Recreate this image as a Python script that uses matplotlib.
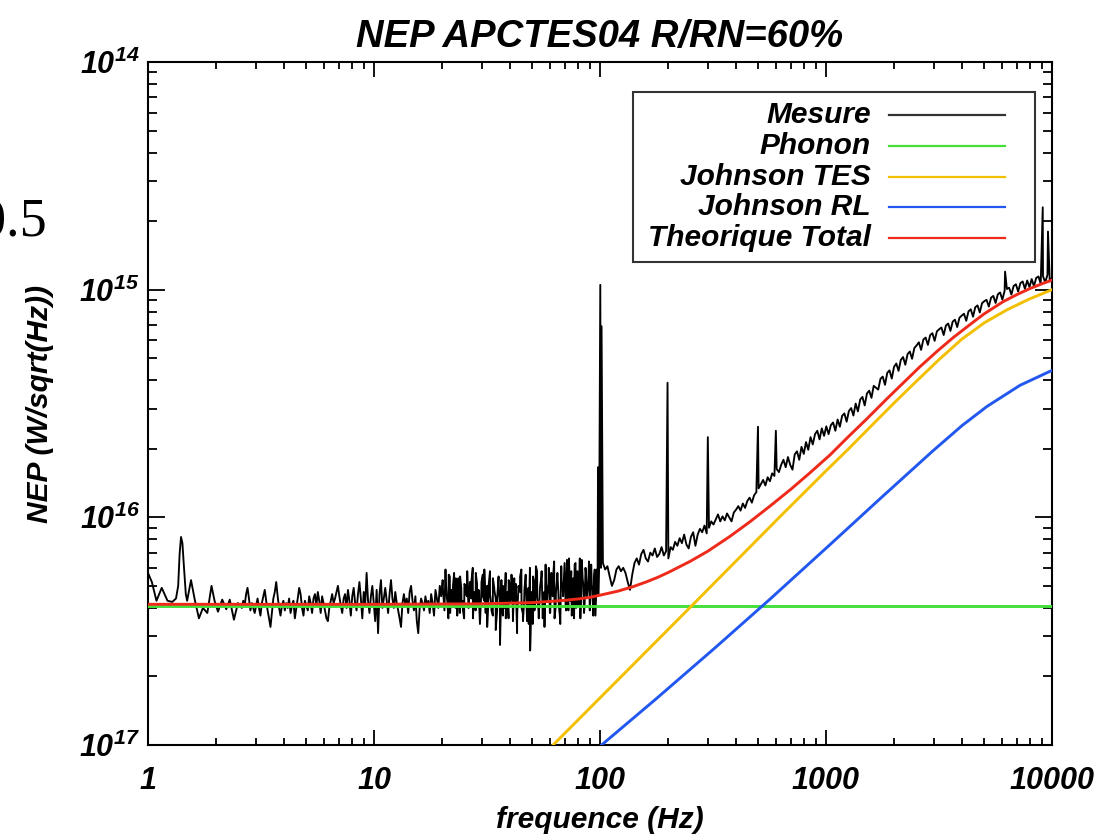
import numpy as np
import matplotlib
matplotlib.use('Agg')
import matplotlib.pyplot as plt
from matplotlib.lines import Line2D
from matplotlib.patches import Rectangle
from matplotlib.ticker import FixedLocator, FixedFormatter, LogLocator, NullFormatter

plt.rcParams['font.family'] = ['Liberation Sans', 'DejaVu Sans']
plt.rcParams['font.weight'] = 'bold'
plt.rcParams['font.style'] = 'italic'
plt.rcParams['mathtext.fontset'] = 'custom'
plt.rcParams['mathtext.rm'] = 'Liberation Sans:italic:bold'
plt.rcParams['mathtext.it'] = 'Liberation Sans:italic:bold'
plt.rcParams['mathtext.bf'] = 'Liberation Sans:italic:bold'

UNIT = 1e-17  # all values below are in units of 1e-17 W/sqrt(Hz)

# ---------------- data ----------------
title = "NEP APCTES04 R/RN=60%"
xlabel = "frequence (Hz)"
ylabel = "NEP (W/sqrt(Hz))"
legend_labels = ["Mesure", "Phonon", "Johnson TES", "Johnson RL", "Theorique Total"]
xtick_vals = [1, 10, 100, 1000, 10000]
xtick_labels = ["1", "10", "100", "1000", "10000"]
ytick_vals = [1e-17, 1e-16, 1e-15, 1e-14]
ytick_labels = [r"$10^{17}$", r"$10^{16}$", r"$10^{15}$", r"$10^{14}$"]

# measured spectrum, 1 - 2.5 Hz
meas_lo_f = [1.00, 1.04, 1.09, 1.15, 1.22, 1.28, 1.33, 1.36, 1.38, 1.40, 1.42, 1.44,
             1.47, 1.49, 1.55, 1.61, 1.68, 1.75, 1.83, 1.91, 1.97, 2.04, 2.13, 2.22,
             2.30, 2.40, 2.50]
meas_lo_v = [5.7, 5.2, 4.3, 4.9, 4.3, 4.25, 4.4, 5.0, 6.9, 8.2, 7.7, 6.2,
             4.6, 4.3, 5.3, 4.35, 3.6, 4.0, 3.8, 5.0, 4.3, 3.85, 4.35, 3.95,
             4.35, 3.55, 4.2]

# measured spectrum, 2.6 - 99 Hz (log-spaced bins)
meas_mid_range = (2.6, 99.0)
meas_mid_v = [
    4.0, 4.3, 4.1, 4.6, 4.9, 4.4, 3.9, 4.2, 4.0, 3.8,
    4.1, 4.4, 4.0, 3.7, 4.2, 4.5, 4.8, 4.3, 3.9, 3.6,
    3.3, 3.8, 4.4, 4.7, 5.2, 4.5, 4.0, 3.7, 4.1, 4.3,
    3.9, 4.2, 4.0, 4.4, 3.8, 4.1, 4.3, 3.6, 4.0, 4.4,
    4.9, 4.6, 4.0, 3.7, 4.3, 4.1, 3.9, 4.5, 4.2, 3.8,
    4.4, 4.6, 4.1, 4.7, 4.3, 3.8, 4.5, 4.2, 3.9, 3.6,
    3.5, 4.0, 4.3, 4.6, 4.2, 4.4, 4.7, 5.0, 4.5, 4.1,
    3.8, 4.4, 4.6, 4.0, 4.8, 4.3, 3.7, 4.5, 4.9, 4.2,
    3.9, 4.6, 5.2, 4.4, 3.6, 4.7, 4.1, 5.7, 4.3, 3.8,
    4.5, 5.0, 4.2, 3.5, 4.8, 3.1, 4.6, 5.3, 4.0, 4.4,
    4.9, 4.3, 3.8, 4.6, 5.3, 4.4, 4.0, 4.7, 4.2, 3.9,
    3.6, 3.3, 4.2, 4.6, 4.1, 4.4, 3.8, 4.7, 5.0, 4.3,
    3.9, 4.5, 3.5, 3.1, 4.0, 4.4, 4.2, 3.9, 4.5, 4.1,
    4.3, 3.8, 4.6, 4.2, 3.7, 4.8, 4.4, 4.0, 5.0, 4.5,
    5.3, 4.1, 5.9, 4.4, 3.6, 5.5, 4.8, 4.2, 5.7, 4.0,
    4.6, 5.4, 3.8, 4.9, 4.3, 3.6, 5.0, 4.5, 4.0, 5.2,
    4.4, 6.0, 4.7, 3.9, 5.1, 4.2, 3.4, 4.8, 5.6, 4.3,
    3.8, 5.0, 4.5, 5.8, 4.1, 3.7, 4.9, 4.4, 3.9, 5.2,
    2.75, 4.5, 5.0, 4.0, 3.6, 4.7, 5.3, 4.2, 5.6, 3.5,
    4.6, 5.1, 3.8, 4.9, 5.5, 4.0, 3.5, 4.8, 5.2, 4.1,
    3.4, 2.6, 4.7, 5.5, 3.9, 6.1, 4.4, 3.6, 5.0, 5.8,
    4.2, 3.3, 5.3, 4.6, 6.0, 3.8, 4.9, 5.5, 3.6, 4.7,
    5.7, 4.1, 3.4, 5.2, 4.5, 6.3, 3.9, 5.0, 6.6, 4.3,
    3.7, 5.4, 6.2, 4.0, 5.8, 4.6, 3.6, 6.5, 5.1, 4.2,
    5.6, 4.8, 6.4, 4.4, 5.0, 3.7, 5.9, 4.6, 5.3, 6.2,
]

# extra measured bins between 20 and 98 Hz (the dense part of the spectrum)
meas_mid2_range = (20.2, 98.3)
meas_mid2_v = [
    4.8, 3.9, 5.2, 4.3, 5.6, 3.8, 4.5, 5.0, 4.1, 5.4,
    3.7, 4.9, 5.5, 4.2, 3.9, 5.1, 4.6, 5.8, 4.0, 4.7,
    5.3, 3.6, 4.4, 5.7, 4.1, 4.8, 3.5, 5.2, 4.5, 5.9,
    4.2, 3.3, 5.0, 4.6, 3.9, 5.4, 4.8, 3.2, 4.4, 5.5,
    4.0, 5.3, 3.7, 4.9, 5.7, 4.3, 3.6, 5.1, 4.6, 3.9,
    5.4, 4.2, 3.1, 5.0, 4.7, 5.9, 3.8, 4.4, 5.6, 3.5,
    4.9, 6.0, 4.1, 3.4, 5.2, 4.6, 5.8, 3.9, 4.8, 5.5,
    3.6, 4.7, 6.2, 4.3, 5.1, 3.8, 5.7, 4.5, 6.4, 4.0,
    5.3, 4.6, 3.7, 6.1, 4.9, 5.6, 4.2, 6.5, 3.9, 5.2,
    5.8, 4.4, 3.6, 6.3, 5.0, 4.1, 6.6, 4.7, 5.4, 3.8,
    6.0, 4.5, 5.2, 3.9, 6.2, 4.8, 5.5, 3.7, 5.9, 4.6,
]

# measured spectrum, 103 - 10000 Hz (log-spaced bins)
meas_hi_range = (103.0, 10000.0)
meas_hi_v = [
    6.3, 5.9, 6.1, 5.5, 5.0, 5.3, 5.9, 6.1, 5.8, 6.0,
    5.7, 5.2, 4.8, 5.6, 6.3, 6.6, 6.2, 6.9, 7.2, 6.6,
    6.4, 7.0, 6.8, 7.3, 6.7, 6.9, 7.4, 6.8, 7.1, 6.6,
    7.4, 7.2, 7.8, 7.5, 8.1, 7.7, 8.4, 7.6, 7.3, 8.2,
    8.6, 7.5, 8.4, 8.9, 8.6, 9.2, 8.5, 9.0, 9.6, 9.3,
    9.8, 10.3, 9.6, 10.1, 9.7, 10.4, 10.0, 9.6, 10.5, 10.8,
    11.2, 10.7, 11.5, 11.0, 11.8, 12.2, 11.6, 12.5, 12.9, 13.4,
    14.0, 14.6, 13.8, 15.0, 14.4, 15.6, 15.2, 16.3, 15.8, 17.0,
    17.9, 16.6, 18.4, 17.0, 16.2, 18.9, 19.5, 17.9, 20.4, 19.0,
    21.4, 19.8, 22.5, 20.9, 23.2, 24.0, 22.0, 24.6, 22.8, 25.1,
    23.2, 25.4, 26.1, 24.0, 26.9, 25.0, 27.9, 28.6, 26.3, 29.3,
    30.2, 28.0, 31.6, 29.2, 32.9, 33.8, 31.0, 35.0, 36.0, 33.5,
    37.8, 37.1, 36.4, 40.6, 41.5, 38.2, 43.1, 44.2, 40.7, 45.8,
    47.4, 44.0, 49.1, 50.6, 46.8, 52.1, 53.5, 49.7, 55.4, 56.9,
    58.7, 54.4, 60.4, 61.6, 57.2, 63.1, 64.4, 59.6, 65.6, 67.0,
    68.2, 63.2, 69.6, 71.0, 65.9, 72.4, 73.8, 68.5, 75.3, 76.9,
    78.4, 73.0, 80.3, 82.0, 76.1, 83.7, 85.3, 79.4, 87.2, 89.0,
    90.2, 84.3, 92.2, 93.9, 87.4, 95.4, 97.2, 90.4, 98.8, 100.7,
    102.0, 95.2, 103.8, 105.6, 98.1, 106.8, 108.7, 100.9, 109.7, 102.6,
    111.3, 103.6, 112.6, 114.3, 106.2, 114.8, 107.5, 116.4, 108.7, 113.0,
]

# narrow lines (spikes) in the measured spectrum
spike_f = [98.0, 100.3, 101.0, 101.6, 199.0, 300.0, 500.0, 600.0, 6200.0, 9100.0, 9600.0]
spike_v = [16.6, 105.0, 6.0, 69.0, 39.0, 22.5, 25.0, 24.0, 120.0, 230.0, 180.0]

# theoretical curves
phonon_f = [1.0, 10000.0]
phonon_v = [4.08, 4.08]

tes_f = [62.0, 100.0, 251.0, 631.0, 1000.0, 1259.0, 1585.0, 1995.0, 2512.0, 3162.0,
         3981.0, 5012.0, 6310.0, 7943.0, 10000.0]
tes_v = [1.0, 1.61, 4.03, 10.15, 16.0, 20.0, 25.2, 31.7, 39.6, 49.3,
         60.5, 71.5, 81.5, 91.0, 100.0]

rl_f = [101.6, 177.0, 324.0, 565.0, 1042.0, 1760.0, 2974.0, 4000.0, 5157.0, 7215.0, 9800.0, 10000.0]
rl_v = [1.0, 1.594, 2.68, 4.37, 7.59, 12.23, 19.6, 25.3, 30.7, 38.0, 43.8, 44.1]

total_f = [1, 10, 30, 50, 60, 70, 80, 90, 100, 120, 140, 160, 180, 200, 250, 300, 376,
           460, 565, 700, 850, 1042, 1250, 1500, 1862, 2200, 2600, 3100, 3648, 4300,
           5000, 6070, 7000, 8000, 9000, 10000]
total_v = [4.15, 4.15, 4.17, 4.22, 4.27, 4.32, 4.38, 4.45, 4.55, 4.74, 4.96, 5.2, 5.45,
           5.72, 6.4, 7.1, 8.25, 9.55, 11.2, 13.3, 15.7, 18.8, 22.5, 26.8, 33.2, 39.0,
           45.8, 53.6, 61.5, 69.8, 78.2, 88.5, 95.2, 101.2, 106.0, 110.2]

colors = {"mesure": "#000000", "phonon": "#44e03a", "tes": "#f2c000",
          "rl": "#2258f0", "total": "#ee2a1a"}

# ---------------- figure ----------------
W, H = 1119, 839
fig = plt.figure(figsize=(W / 100, H / 100), dpi=100)
ax = fig.add_axes([148 / W, 1 - 745 / H, (1052 - 148) / W, (745 - 62) / H])

mid_f = np.geomspace(meas_mid_range[0], meas_mid_range[1], len(meas_mid_v))
mid2_f = np.geomspace(meas_mid2_range[0], meas_mid2_range[1], len(meas_mid2_v))
hi_f = np.geomspace(meas_hi_range[0], meas_hi_range[1], len(meas_hi_v))
mf = np.concatenate([meas_lo_f, mid_f, mid2_f, hi_f, spike_f])
mv = np.concatenate([meas_lo_v, meas_mid_v, meas_mid2_v, meas_hi_v, spike_v]) * UNIT
order = np.argsort(mf)

lw_c = 2.1
ax.plot(mf[order], mv[order], color=colors["mesure"], lw=1.35, zorder=2)
ax.plot(phonon_f, np.array(phonon_v) * UNIT, color=colors["phonon"], lw=lw_c, zorder=3)
ax.plot(tes_f, np.array(tes_v) * UNIT, color=colors["tes"], lw=lw_c, zorder=3)
ax.plot(rl_f, np.array(rl_v) * UNIT, color=colors["rl"], lw=lw_c, zorder=3)
ax.plot(total_f, np.array(total_v) * UNIT, color=colors["total"], lw=lw_c, zorder=4)

ax.set_xscale('log')
ax.set_yscale('log')
ax.set_xlim(1, 10000)
ax.set_ylim(1e-17, 1e-14)

ax.xaxis.set_major_locator(FixedLocator(xtick_vals))
ax.xaxis.set_major_formatter(FixedFormatter(xtick_labels))
ax.yaxis.set_major_locator(FixedLocator(ytick_vals))
ax.yaxis.set_major_formatter(FixedFormatter(ytick_labels))
ax.xaxis.set_minor_locator(LogLocator(base=10, subs=np.arange(2, 10), numticks=20))
ax.yaxis.set_minor_locator(LogLocator(base=10, subs=np.arange(2, 10), numticks=20))
ax.xaxis.set_minor_formatter(NullFormatter())
ax.yaxis.set_minor_formatter(NullFormatter())

ax.tick_params(which='both', direction='in', top=True, right=True, width=1.3, colors='black')
ax.tick_params(axis='x', which='major', length=10.5, pad=15, labelsize=22)
ax.tick_params(axis='x', which='minor', length=5)
ax.tick_params(axis='y', which='major', length=12, pad=6, labelsize=22)
ax.tick_params(axis='y', which='minor', length=6.5)
for s in ax.spines.values():
    s.set_linewidth(1.5)

ax.set_title(title, fontsize=27.5, fontweight='bold', fontstyle='italic', pad=11)
ax.set_xlabel(xlabel, fontsize=21.5, fontweight='bold', fontstyle='italic')
ax.set_ylabel(ylabel, fontsize=21.5, fontweight='bold', fontstyle='italic')
ax.xaxis.set_label_coords(0.5, (745 - 820) / (745 - 62))
ax.yaxis.set_label_coords((40 - 148) / (1052 - 148), 0.5)
ax.xaxis.label.set_verticalalignment('center')
ax.yaxis.label.set_verticalalignment('center')

# ---------------- legend (drawn as in the original: labels right, lines after) ----------------
def fx(x):
    return x / W

def fy(y):
    return 1 - y / H

box = Rectangle((fx(633), fy(262)), fx(1035) - fx(633), fy(92) - fy(262),
                transform=fig.transFigure, fill=True, facecolor='white',
                edgecolor='#333333', lw=1.5, zorder=5)
fig.patches.append(box)
row_y = [115, 146, 177, 207, 238]
leg_colors = ["#333333", colors["phonon"], colors["tes"], colors["rl"], colors["total"]]
for lab, yy, col in zip(legend_labels, row_y, leg_colors):
    fig.text(fx(871), fy(yy + 8), lab, ha='right', va='baseline', fontsize=21.5,
             fontweight='bold', fontstyle='italic', zorder=6)
    fig.lines.append(Line2D([fx(889), fx(1005)], [fy(yy), fy(yy)], transform=fig.transFigure,
                            color=col, lw=1.6, zorder=6))

# stray text at the left edge of the original image (cut off there as well)
fig.text(fx(47), fy(222), "0.5", ha='right', va='center', fontsize=39,
         family='Liberation Serif', fontweight='normal', fontstyle='normal')

fig.savefig('out.png', dpi=100)
